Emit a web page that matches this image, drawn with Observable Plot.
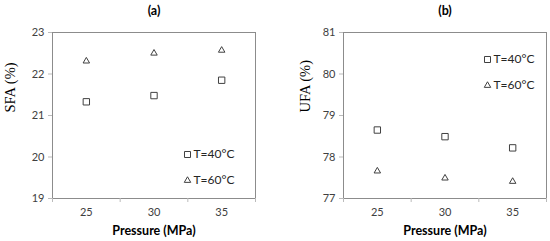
<!DOCTYPE html>
<html>
<head>
<meta charset="utf-8">
<script src="https://cdn.jsdelivr.net/npm/d3@7"></script>
<script src="https://cdn.jsdelivr.net/npm/@observablehq/plot@0.6"></script>
<style>
  html, body { margin: 0; padding: 0; background: #fff; }
  #wrap { display: flex; width: 550px; height: 241px; }
</style>
</head>
<body>
<div id="wrap"></div>
<script>
const pressures = [25, 30, 35];
const sfa40 = [21.33, 21.48, 21.85];
const sfa60 = [22.31, 22.50, 22.57];
const ufa40 = [78.65, 78.49, 78.22];
const ufa60 = [77.66, 77.49, 77.41];
const seriesLabels = ["T=40°C", "T=60°C"];
const sfaTicks = [19, 20, 21, 22, 23];
const ufaTicks = [77, 78, 79, 80, 81];

function panel({title, ylabel, v40, v60, yTicks, marginLeft, marginRight, legendDx, legendDy, labelX}) {
  const data = [
    ...pressures.map((p, i) => ({p, v: v40[i], s: seriesLabels[0]})),
    ...pressures.map((p, i) => ({p, v: v60[i], s: seriesLabels[1]}))
  ];
  const bounds = [22.5, 27.5, 32.5, 37.5];
  const tickFont = "Lato, 'Open Sans', sans-serif";
  const legend = seriesLabels.map((s, i) => ({s, i}));
  const svg = Plot.plot({
    width: 275,
    height: 241,
    marginTop: 32,
    marginBottom: 43,
    marginLeft,
    marginRight,
    style: {fontFamily: tickFont, fontSize: "11px", color: "#404040", background: "#fff"},
    x: {domain: [22.5, 37.5], axis: null},
    y: {domain: [yTicks[0], yTicks[yTicks.length - 1]], axis: null},
    marks: [
      Plot.frame({stroke: "#8c8c8c", strokeWidth: 1}),
      Plot.axisX({ticks: bounds, tickSize: 4, tickFormat: () => "", stroke: "#bbb", label: null}),
      Plot.axisX({ticks: pressures, tickSize: 0, tickPadding: 10, tickFormat: d => d, fill: "#404040", label: null}),
      Plot.axisY({ticks: yTicks, tickSize: 4, tickPadding: 4, tickFormat: d => d, stroke: "#bbb", fill: "#404040", label: null}),
      Plot.dot(data.filter(d => d.s === seriesLabels[0]), {x: "p", y: "v", symbol: "square", r: 3.6, stroke: "#404040", strokeWidth: 1, fill: "white"}),
      Plot.dot(data.filter(d => d.s === seriesLabels[1]), {x: "p", y: "v", symbol: "triangle", r: 2.4, stroke: "#404040", strokeWidth: 1, fill: "white"}),
      // legend
      Plot.dot(legend.slice(0, 1), {frameAnchor: "top-right", dx: legendDx, dy: legendDy, symbol: "square", r: 3.4, stroke: "#404040", strokeWidth: 1, fill: "white"}),
      Plot.dot(legend.slice(1, 2), {frameAnchor: "top-right", dx: legendDx, dy: legendDy + 26, symbol: "triangle", r: 2.4, stroke: "#404040", strokeWidth: 1, fill: "white"}),
      Plot.text(legend.slice(0, 1), {frameAnchor: "top-right", dx: legendDx + 6, dy: legendDy, text: "s", textAnchor: "start", lineAnchor: "middle", fontSize: 12, fill: "#262626"}),
      Plot.text(legend.slice(1, 2), {frameAnchor: "top-right", dx: legendDx + 6, dy: legendDy + 26, text: "s", textAnchor: "start", lineAnchor: "middle", fontSize: 12, fill: "#262626"}),
      // title
      Plot.text([title], {frameAnchor: "top", dy: -22, text: d => d, lineAnchor: "middle", fontWeight: "bold", fontSize: 12.5, fill: "#000"}),
      // x label
      Plot.text(["Pressure (MPa)"], {frameAnchor: "bottom", dy: 32, text: d => d, lineAnchor: "middle", fontWeight: "bold", fontSize: 12.5, fill: "#000"}),
      // y label
      Plot.text([ylabel], {frameAnchor: "left", dx: labelX, dy: -3, text: d => d, rotate: -90, fontFamily: "'Liberation Serif', 'DejaVu Serif', serif", fontSize: 14.5, fill: "#000"})
    ]
  });
  return svg;
}

const wrap = document.getElementById("wrap");
wrap.append(panel({title: "(a)", ylabel: "SFA (%)", v40: sfa40, v60: sfa60, yTicks: sfaTicks, marginLeft: 52, marginRight: 20, legendDx: -68, legendDy: 122, labelX: -42}));
wrap.append(panel({title: "(b)", ylabel: "UFA (%)", v40: ufa40, v60: ufa60, yTicks: ufaTicks, marginLeft: 68, marginRight: 4, legendDx: -59, legendDy: 27, labelX: -38}));
</script>
</body>
</html>
